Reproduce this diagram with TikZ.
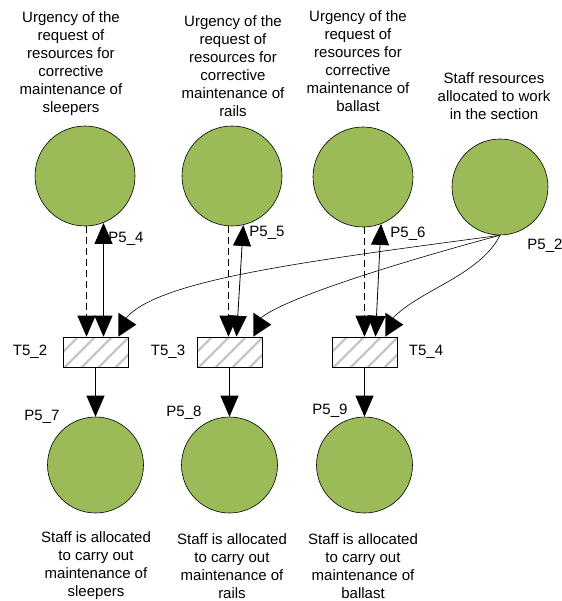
\documentclass[tikz,border=0pt]{standalone}
\usepackage{fontspec}
\setmainfont{Liberation Sans}
\usetikzlibrary{arrows.meta,calc}
\definecolor{placegreen}{HTML}{9BBB59}
\begin{document}
\begin{tikzpicture}[x=1pt,y=-1pt,font=\fontsize{15}{18}\selectfont,
  place/.style={circle,draw=black,fill=placegreen,minimum size=100pt,inner sep=0pt,line width=0.6pt},
  trans/.style={rectangle,draw=black,line width=0.6pt,minimum width=65pt,minimum height=30pt,inner sep=0pt,
    path picture={\foreach \k in {-3,...,5}{\draw[gray!45,line width=2.2pt]
      ($(path picture bounding box.south west)+(\k*17pt,-2pt)$) -- ++(36pt,36pt);}}},
  lbl/.style={inner sep=0pt,align=center},
  arc/.style={line width=0.8pt,-{Triangle[width=18pt,length=21pt]}},
  darc/.style={line width=0.8pt,{Triangle[width=18pt,length=21pt]}-{Triangle[width=18pt,length=21pt]}},
  dasharc/.style={line width=0.8pt,dash pattern=on 7pt off 4pt,draw=black,
    -{Triangle[width=18pt,length=21pt]}},
  curvearc/.style={line width=0.6pt},
  headfill/.style={fill=black}]
\useasboundingbox (0,0) rectangle (561,601);

% top texts
\node[lbl] (t1) at (71,64) {Urgency of the\\request of\\resources for\\corrective\\maintenance of\\sleepers};
\node[lbl] (t2) at (233,66) {Urgency of the\\request of\\resources for\\corrective\\maintenance of\\rails};
\node[lbl] (t3) at (358,61) {Urgency of the\\request of\\resources for\\corrective\\maintenance of\\ballast};
\node[lbl] (t4) at (494,96) {Staff resources\\allocated to work\\in the section};

% places
\node[place] (P54) at (85,176) {};
\node[place] (P55) at (232,176) {};
\node[place] (P56) at (363,177) {};
\node[place,minimum size=96pt] (P52) at (500,187) {};
\node[place,minimum size=96pt] (P57) at (95.5,465) {};
\node[place,minimum size=96pt] (P58) at (229.5,465) {};
\node[place,minimum size=96pt] (P59) at (364.5,465) {};

% transitions
\node[trans] (T52) at (95.5,352) {};
\node[trans] (T53) at (229.5,352) {};
\node[trans] (T54) at (364.5,352) {};

% labels
\node[lbl] (lP54) at (126,239) {P5\_4};
\node[lbl] (lP55) at (267,233) {P5\_5};
\node[lbl] (lP56) at (408,234) {P5\_6};
\node[lbl] (lP52) at (545,246) {P5\_2};
\node[lbl] (lT52) at (30,352) {T5\_2};
\node[lbl] (lT53) at (168,352) {T5\_3};
\node[lbl] (lT54) at (426,352) {T5\_4};
\node[lbl] (lP57) at (42,417) {P5\_7};
\node[lbl] (lP58) at (184,413) {P5\_8};
\node[lbl] (lP59) at (330,411) {P5\_9};

% bottom texts
\node[lbl] (b1) at (96,566) {Staff is allocated\\to carry out\\maintenance of\\sleepers};
\node[lbl] (b2) at (232,566) {Staff is allocated\\to carry out\\maintenance of\\rails};
\node[lbl] (b3) at (363,566) {Staff is allocated\\to carry out\\maintenance of\\ballast};

% end points on the transitions
\coordinate (d52) at ($(T52.north)+(-9,0)$);
\coordinate (s52) at ($(T52.north)+(8,0)$);
\coordinate (d53) at ($(T53.north)+(-1,0)$);
\coordinate (s53) at ($(T53.north)+(7,0)$);
\coordinate (d54) at ($(T54.north)+(0,0)$);
\coordinate (s54) at ($(T54.north)+(11,0)$);

% arcs top places <-> transitions
\draw[dasharc] (P54.-89 -| d52) -- (d52);
\draw[darc] (P54.-69 -| s52) -- (s52);
\draw[dasharc] (P55.-95 -| d53) -- (d53);
\draw[darc] (P55.-77) -- (s53);
\draw[dasharc] (P56.-88 -| d54) -- (d54);
\draw[darc] (P56.-69) -- (s54);

% arcs transitions -> bottom places
\draw[arc] (T52.south) -- (P57.north);
\draw[arc] (T53.south) -- (P58.north);
\draw[arc] (T54.south) -- (P59.north);

% arcs from P5_2 with their heads
\coordinate (h52) at ($(T52.north east)+(-10,-24)$);
\coordinate (h53) at ($(T53.north east)+(-9,-24)$);
\coordinate (h54) at ($(T54.north east)+(-12,-24)$);
\fill[headfill] (h52) -- ++(0,24) -- ++(18,-12) -- cycle;
\fill[headfill] (h53) -- ++(0,24) -- ++(18,-12) -- cycle;
\fill[headfill] (h54) -- ++(0,24) -- ++(18,-12) -- cycle;
\coordinate (c52) at ($(h52)+(8,5)$);
\coordinate (c53) at ($(h53)+(8,5)$);
\coordinate (c54) at ($(h54)+(8,5)$);
\draw[curvearc] (P52.south) .. controls (300,262) and (160,280) .. (c52);
\draw[curvearc] (P52.south) .. controls (400,262) and (285,298) .. (c53);
\draw[curvearc] (P52.south) .. controls (480,275) and (420,290) .. (c54);
\end{tikzpicture}
\end{document}
